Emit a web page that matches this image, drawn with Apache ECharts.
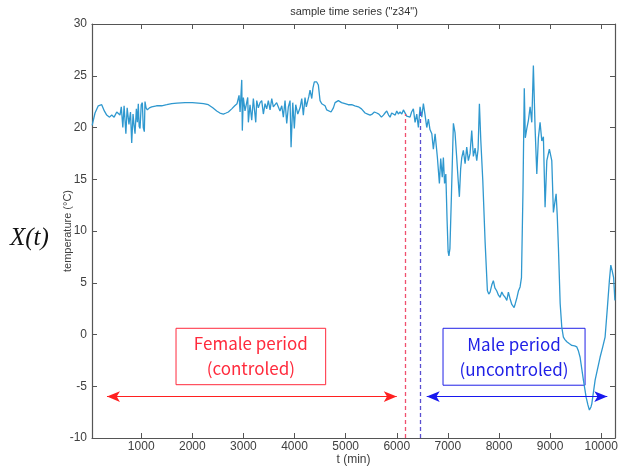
<!DOCTYPE html>
<html>
<head>
<meta charset="utf-8">
<script src="https://cdn.jsdelivr.net/npm/echarts@6/dist/echarts.min.js"></script>
<style>
  html, body { margin: 0; padding: 0; background: #fff; }
  #chart { width: 618px; height: 471px; }
</style>
</head>
<body>
<div id="chart"></div>
<script>
// Sample time series "z34": temperature (°C) against time t (min)
const times = [
  40, 96, 160, 227, 278, 325, 380, 423, 470, 521, 585, 610, 640, 665, 700, 725, 760, 790, 814, 840,
  860, 879, 905, 925, 943, 960, 977, 1000, 1022, 1040, 1061, 1074, 1095, 1120, 1160, 1205, 1300, 1401, 1500, 1597,
  1700, 1857, 2000, 2117, 2220, 2313, 2400, 2477, 2540, 2607, 2660, 2705, 2771, 2830, 2875, 2914, 2934, 2967, 2978, 2998,
  3031, 3084, 3096, 3129, 3162, 3194, 3241, 3260, 3292, 3325, 3358, 3390, 3423, 3455, 3487, 3521, 3554, 3585, 3618, 3650,
  3683, 3715, 3750, 3781, 3814, 3847, 3879, 3912, 3932, 3965, 3996, 4023, 4063, 4108, 4141, 4172, 4205, 4230, 4258, 4280,
  4303, 4337, 4360, 4387, 4434, 4466, 4499, 4532, 4565, 4597, 4630, 4661, 4714, 4760, 4793, 4857, 4920, 4988, 5050, 5119,
  5180, 5249, 5310, 5380, 5430, 5478, 5520, 5562, 5609, 5650, 5700, 5738, 5770, 5804, 5840, 5869, 5900, 5934, 5970, 6000,
  6030, 6065, 6098, 6130, 6162, 6195, 6227, 6260, 6290, 6325, 6358, 6391, 6423, 6456, 6489, 6521, 6554, 6587, 6619, 6650,
  6686, 6716, 6750, 6795, 6834, 6860, 6890, 6912, 6935, 6960, 6985, 7005, 7020, 7040, 7070, 7108, 7140, 7174, 7200, 7225,
  7250, 7272, 7303, 7337, 7369, 7401, 7434, 7467, 7499, 7532, 7565, 7591, 7617, 7644, 7683, 7728, 7773, 7800, 7826, 7860,
  7890, 7920, 7957, 7990, 8022, 8055, 8086, 8120, 8153, 8184, 8220, 8251, 8296, 8320, 8348, 8380, 8413, 8440, 8470, 8495,
  8515, 8544, 8576, 8609, 8642, 8673, 8706, 8740, 8771, 8804, 8838, 8869, 8902, 8936, 8986, 9033, 9065, 9100, 9118, 9140,
  9163, 9197, 9229, 9260, 9290, 9327, 9380, 9425, 9480, 9523, 9555, 9587, 9652, 9705, 9740, 9769, 9800, 9816, 9881, 9978,
  10030, 10076, 10121, 10160, 10188, 10213, 10243, 10268
];
const temps = [
  20.2, 21.4, 22.1, 22.2, 21.6, 21.2, 21.0, 21.2, 21.0, 21.5, 21.2, 22.0, 20.0, 22.1, 19.4, 21.9, 20.3, 21.5, 18.5, 21.3,
  20.2, 19.4, 21.8, 20.5, 22.3, 20.1, 19.9, 22.2, 22.4, 20.0, 19.6, 22.5, 21.9, 21.7, 21.9, 22.0, 22.1, 22.1, 22.2, 22.3,
  22.35, 22.4, 22.4, 22.35, 22.3, 22.2, 21.9, 21.6, 21.4, 21.3, 21.4, 21.5, 21.8, 22.1, 22.3, 23.1, 21.5, 24.6, 19.7, 22.9,
  21.6, 22.9, 20.5, 22.2, 20.7, 22.8, 20.5, 22.6, 21.9, 22.4, 22.6, 21.3, 22.3, 21.8, 22.6, 21.7, 22.8, 22.0, 21.9, 22.4,
  22.3, 21.6, 22.1, 21.0, 22.6, 20.4, 22.0, 22.6, 18.1, 22.4, 19.9, 22.2, 21.3, 21.9, 22.8, 21.2, 22.9, 22.0, 22.1, 23.0,
  23.6, 22.8, 23.8, 24.4, 24.4, 24.1, 22.6, 22.3, 22.4, 22.1, 21.7, 21.8, 21.5, 21.9, 22.4, 22.6, 22.4, 22.3, 22.2, 22.2,
  22.1, 22.0, 21.8, 21.4, 21.3, 21.2, 21.3, 21.5, 21.4, 21.3, 21.0, 21.2, 21.4, 21.6, 21.2, 21.0, 21.4, 21.5, 21.2, 21.6,
  21.3, 21.5, 21.3, 21.7, 21.6, 21.1, 21.2, 21.0, 21.5, 21.8, 20.5, 21.3, 20.0, 22.0, 21.0, 22.3, 21.2, 20.0, 20.8, 19.8,
  19.4, 17.9, 19.4, 17.1, 14.6, 17.0, 15.2, 17.1, 14.6, 15.5, 11.0, 8.0, 7.6, 8.3, 13.5, 20.4, 19.5, 17.0, 15.0, 13.3,
  16.0, 17.1, 17.8, 16.5, 18.1, 16.8, 17.5, 19.7, 17.2, 18.0, 16.8, 17.9, 22.3, 18.8, 14.9, 9.0, 4.25, 3.9, 4.1, 4.8,
  5.2, 4.5, 4.2, 3.8, 3.6, 4.1, 3.8, 3.6, 3.3, 4.1, 3.4, 2.9, 2.6, 3.0, 3.5, 4.2, 4.6, 5.5, 14.0, 23.8,
  19.0, 19.9, 20.7, 22.0, 20.5, 26.0, 20.0, 15.5, 19.0, 20.5, 18.7, 19.1, 12.3, 16.8, 17.9, 16.8, 11.8, 13.0, 13.6, 11.5,
  8.4, 3.0, 0.7, -0.26, -0.5, -0.7, -0.9, -1.06, -1.1, -1.2, -1.6, -2.2, -4.4, -6.06, -6.8, -7.3, -7.0, -6.7, -4.4, -2.2,
  -1.2, -0.26, 2.6, 5.2, 6.7, 6.2, 5.5, 3.3
];

const xTickValues = [1000, 2000, 3000, 4000, 5000, 6000, 7000, 8000, 9000, 10000];
const tLimits = [37, 10270];
const tempLimits = [-10, 30];

// Period boundaries (t) and annotation extents
const femaleEnd = 6170;
const maleStart = 6465;
const femaleSpan = [330, 6000];
const maleSpan = [6586, 10119];
const arrowLevel = -6.0;
const femaleBox = [[1681, 0.6], [4609, -4.85]];
const maleBox = [[6905, 0.6], [9684, -4.9]];
const femaleLabel = 'Female period\n(controled)';
const maleLabel = 'Male period\n(uncontroled)';

const axisGray = '#555';
const labelGray = '#404040';
const sansFont = '"Liberation Sans", Arial, sans-serif';
const boxFont = '"Noto Sans CJK JP", "Noto Sans", sans-serif';

const chart = echarts.init(document.getElementById('chart'), null, { renderer: 'canvas' });

const tickStyle = { inside: true, length: 5, lineStyle: { color: axisGray, width: 1 } };
const lineAxis = { onZero: false, lineStyle: { color: axisGray, width: 1.2 } };
const plainNumber = v => String(v);

function boxArea(box, color, text) {
  return {
    silent: true,
    itemStyle: { color: 'rgba(0,0,0,0)', borderColor: color, borderWidth: 1 },
    label: {
      show: true, position: 'inside', formatter: text, color: color,
      fontFamily: boxFont, fontSize: 17, lineHeight: 25
    },
    data: [[{ coord: box[0] }, { coord: box[1] }]]
  };
}

function vLine(t, top, color) {
  return {
    silent: true, symbol: 'none', animation: false,
    label: { show: false },
    lineStyle: { color: color, type: [4, 3], width: 1.3 },
    data: [[{ coord: [t, tempLimits[0]] }, { coord: [t, top] }]]
  };
}

function arrowLine(span, color) {
  return {
    silent: true, symbol: ['arrow', 'arrow'], symbolSize: [8, 13], animation: false,
    label: { show: false },
    itemStyle: { color: color },
    lineStyle: { color: color, type: 'solid', width: 1.2 },
    data: [[
      { coord: [span[0], arrowLevel], lineStyle: { color: color }, itemStyle: { color: color } },
      { coord: [span[1], arrowLevel], itemStyle: { color: color } }
    ]]
  };
}

function annotationSeries(color, extra) {
  return Object.assign({ type: 'line', data: [], color: color, itemStyle: { color: color }, lineStyle: { color: color } }, extra);
}

const option = {
  animation: false,
  backgroundColor: '#fff',
  grid: { left: 92, right: 3, top: 24, bottom: 33, show: false, outerBoundsMode: 'none', containLabel: false },
  xAxis: [
    {
      type: 'value', min: tLimits[0], max: tLimits[1], position: 'bottom',
      name: 't (min)', nameLocation: 'middle', nameGap: 16, nameMoveOverlap: false,
      nameTextStyle: { color: labelGray, fontSize: 12, fontFamily: sansFont },
      axisLine: lineAxis,
      axisTick: Object.assign({ customValues: xTickValues }, tickStyle),
      axisLabel: { customValues: xTickValues, formatter: plainNumber, color: labelGray, fontSize: 12, fontFamily: sansFont, margin: 3 },
      splitLine: { show: false }
    },
    {
      type: 'value', min: tLimits[0], max: tLimits[1], position: 'top',
      axisLine: lineAxis,
      axisTick: Object.assign({ customValues: xTickValues }, tickStyle),
      axisLabel: { show: false },
      splitLine: { show: false }
    }
  ],
  yAxis: [
    {
      type: 'value', min: tempLimits[0], max: tempLimits[1], interval: 5, position: 'left',
      name: 'temperature (°C)', nameLocation: 'middle', nameGap: 19, nameMoveOverlap: false,
      nameTextStyle: { color: labelGray, fontSize: 11, fontFamily: sansFont },
      axisLine: lineAxis,
      axisTick: tickStyle,
      axisLabel: { formatter: plainNumber, color: labelGray, fontSize: 12, fontFamily: sansFont, margin: 5 },
      splitLine: { show: false }
    },
    {
      type: 'value', min: tempLimits[0], max: tempLimits[1], interval: 5, position: 'right',
      axisLine: lineAxis,
      axisTick: tickStyle,
      axisLabel: { show: false },
      splitLine: { show: false }
    }
  ],
  graphic: [
    {
      type: 'text', x: 354, y: 12,
      style: { text: 'sample time series ("z34")', fill: '#333', fontSize: 11, fontFamily: sansFont, align: 'center', verticalAlign: 'middle' }
    },
    {
      type: 'text', left: 10, top: 226,
      style: { text: 'X(t)', fill: '#111', fontSize: 25, fontStyle: 'italic', fontFamily: '"Liberation Serif", "Times New Roman", serif' }
    }
  ],
  series: [
    {
      name: 'z34', type: 'line', showSymbol: false, symbol: 'none',
      data: times.map((t, i) => [t, temps[i]]),
      color: '#2f98cf',
      lineStyle: { color: '#2f98cf', width: 1.3 },
      z: 3
    },
    annotationSeries('#f0506e', { markLine: vLine(femaleEnd, 21.3, '#f0506e') }),
    annotationSeries('#5a4fd0', { markLine: vLine(maleStart, 21.6, '#5a4fd0') }),
    annotationSeries('#ff2020', { markLine: arrowLine(femaleSpan, '#ff2020'), markArea: boxArea(femaleBox, '#ff2a3c', femaleLabel) }),
    annotationSeries('#1818ee', { markLine: arrowLine(maleSpan, '#1818ee'), markArea: boxArea(maleBox, '#2020e6', maleLabel) })
  ]
};

chart.setOption(option);
</script>
</body>
</html>
